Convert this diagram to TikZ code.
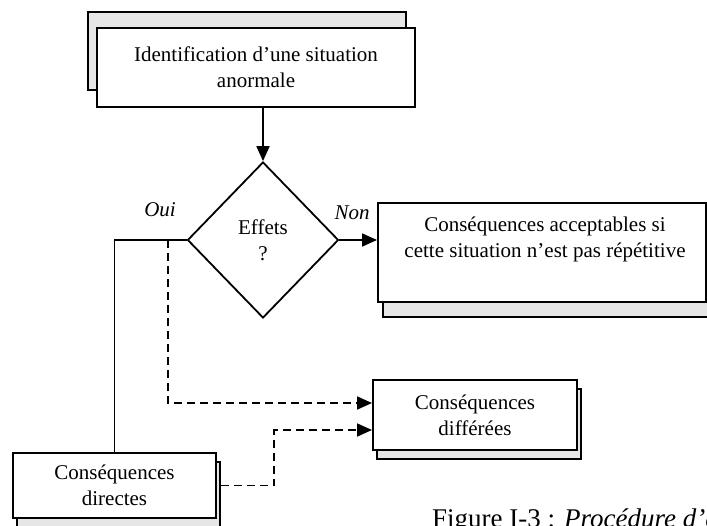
\documentclass[tikz,border=0pt]{standalone}
\usepackage{fontspec}
\setmainfont{Liberation Serif}
\usetikzlibrary{shapes.geometric,arrows.meta,calc}
\definecolor{shadowgray}{HTML}{E6E6E6}
\begin{document}
\begin{tikzpicture}[x=1pt,y=-1pt,
  every node/.style={font=\fontsize{21}{26}\selectfont},
  frontbox/.style={draw,line width=2pt,fill=white,inner sep=0pt,align=center},
  shadowbox/.style={draw,line width=2pt,fill=shadowgray,inner sep=0pt},
  conn/.style={line width=1.8pt},
  arr/.style={conn,-{Triangle[length=15pt,width=13pt]}},
  darr/.style={arr,dash pattern=on 8pt off 5pt},
  lbl/.style={font=\fontsize{21}{25}\selectfont\itshape,inner sep=0pt}]
\useasboundingbox (0,0) rectangle (707,525);
\clip (0,0) rectangle (707,525);
% top box
\node[shadowbox,minimum width=318pt,minimum height=78pt] (tS) at (247,51) {};
\node[frontbox,minimum width=318pt,minimum height=79pt] (t) at (256,67.5) {Identification d’une situation\\anormale};
% diamond
\node[draw,diamond,line width=1.8pt,minimum width=151pt,minimum height=156pt,inner sep=0pt,align=center] (d) at (263,240) {Effets\\?};
% acceptable consequences
\node[shadowbox,minimum width=328pt,minimum height=99pt] (aS) at (547,267.5) {};
\node[frontbox,minimum width=328pt,minimum height=99pt] (a) at (542,252.5) {};
\node[align=center,inner sep=0pt] (aT) at (545,239) {Conséquences acceptables si\\cette situation n’est pas répétitive};
% direct consequences
\node[shadowbox,minimum width=203pt,minimum height=65pt] (cS) at (118.5,494.5) {};
\node[frontbox,minimum width=203pt,minimum height=65pt] (c) at (114.5,485.5) {Conséquences\\directes};
% deferred consequences
\node[shadowbox,minimum width=204pt,minimum height=70pt] (fS) at (479,424) {};
\node[frontbox,minimum width=204pt,minimum height=70pt] (f) at (475,415) {Conséquences\\différées};
% labels
\node[lbl] (oui) at (160,210) {Oui};
\node[lbl] (non) at (352,213) {Non};
% connectors
\draw[arr] (d.north |- t.south) -- (d.north);
\draw[arr] (d.east) -- (d.east -| a.west);
\draw[conn] (d.west) -| (c.north);
\coordinate (split) at (168,240);
\draw[darr] (split) |- ($(f.west)+(0,-12)$);
\draw[darr] (cS.east |- c.east) -- ++(53,0) |- ($(f.west)+(0,15)$);
% caption
\node[anchor=base west,inner sep=0pt,font=\fontsize{27}{32}\selectfont] (cap) at (432,527) {Figure I-3 : \textit{Procédure d’é}};
\end{tikzpicture}
\end{document}
